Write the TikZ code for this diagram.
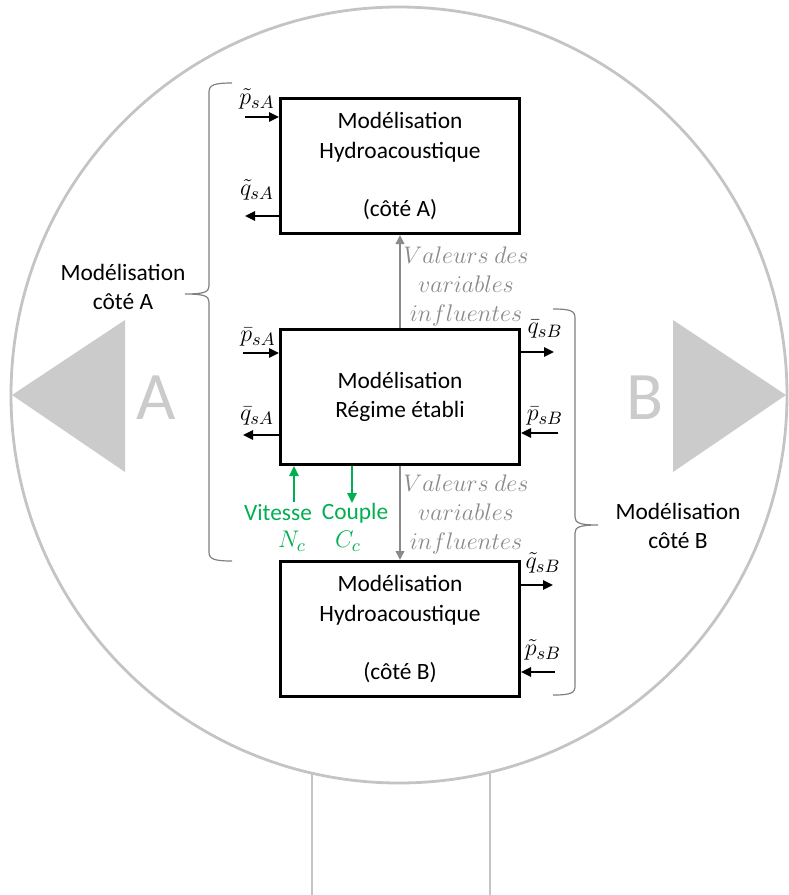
\documentclass[tikz,border=0pt]{standalone}
\usepackage{fontspec}
\setmainfont{Carlito}
\usetikzlibrary{arrows.meta}
\definecolor{ringgray}{HTML}{C4C4C4}
\definecolor{sidegray}{HTML}{CBCBCB}
\definecolor{infgray}{HTML}{8A8A8A}
\definecolor{mecagreen}{HTML}{00B050}
\begin{document}
\begin{tikzpicture}[x=0.5pt, y=-0.5pt,
    blk/.style={draw, line width=1.5pt, minimum width=119.5pt, minimum height=67.5pt,
      align=center, inner sep=0pt, font=\fontsize{11.7}{14.7}\selectfont},
    txt/.style={align=center, inner sep=0pt, font=\fontsize{11.7}{14.2}\selectfont},
    sym/.style={inner sep=0pt, font=\fontsize{12.8}{14}\selectfont},
    sig/.style={-{Triangle[length=5pt,width=4.6pt]}, line width=1.1pt},
    infl/.style={-{Triangle[length=4.5pt,width=4.2pt]}, line width=1.1pt, infgray},
    meca/.style={-{Triangle[length=5pt,width=4.6pt]}, line width=1.1pt, mecagreen},
    brc/.style={line width=0.6pt, gray}]
  \useasboundingbox (0,0) rectangle (788,895);
  % background: ring, stem and side arrows
  \draw[ringgray, line width=1.4pt] (399,395) circle[radius=388];
  \draw[ringgray, line width=1.4pt] (312,773) -- (312,895);
  \draw[ringgray, line width=1.4pt] (490,772) -- (490,895);
  \fill[sidegray] (125,320) -- (12,395) -- (125,472) -- cycle;
  \fill[sidegray] (673,320) -- (786,395) -- (673,472) -- cycle;
  \node[sidegray, inner sep=0pt, font=\fontsize{34}{36}\selectfont] (sideA) at (156,398) {A};
  \node[sidegray, inner sep=0pt, font=\fontsize{34}{36}\selectfont] (sideB) at (645,398) {B};
  % the three blocks
  \node[blk] (hydA) at (400,166) {Modélisation\\Hydroacoustique\\[14.3pt](côté A)};
  \node[blk] (regime) at (400,397) {Modélisation\\Régime établi};
  \node[blk] (hydB) at (400,629) {Modélisation\\Hydroacoustique\\[14.3pt](côté B)};
  % influent variables
  \draw[infl] (regime.north) -- (hydA.south);
  \draw[infl] (regime.south) -- (hydB.north);
  \node[infgray, txt, font=\fontsize{12.3}{14.5}\selectfont] (valA) at (466,286)
    {$Valeurs\ des$\\$variables$\\$influentes$};
  \node[infgray, txt, font=\fontsize{12.3}{14.5}\selectfont] (valB) at (466,514)
    {$Valeurs\ des$\\$variables$\\$influentes$};
  % side A signals
  \coordinate (pAt) at (245,117);
  \coordinate (qAt) at (245,216);
  \coordinate (pAb) at (243,353);
  \coordinate (qAb) at (243,435);
  \draw[sig] (pAt) -- (pAt -| hydA.west);
  \draw[sig] (qAt -| hydA.west) -- (qAt);
  \draw[sig] (pAb) -- (pAb -| regime.west);
  \draw[sig] (qAb -| regime.west) -- (qAb);
  \node[sym] (lpAt) at (257,99) {$\tilde{p}_{sA}$};
  \node[sym] (lqAt) at (257,190) {$\tilde{q}_{sA}$};
  \node[sym] (lpAb) at (258,337) {$\bar{p}_{sA}$};
  \node[sym] (lqAb) at (257,416) {$\bar{q}_{sA}$};
  % side B signals
  \coordinate (qBb) at (554,352);
  \coordinate (pBb) at (558,433);
  \coordinate (qBt) at (553,585);
  \coordinate (pBt) at (555,672);
  \draw[sig] (qBb -| regime.east) -- (qBb);
  \draw[sig] (pBb) -- (pBb -| regime.east);
  \draw[sig] (qBt -| hydB.east) -- (qBt);
  \draw[sig] (pBt) -- (pBt -| hydB.east);
  \node[sym] (lqBb) at (545,329) {$\bar{q}_{sB}$};
  \node[sym] (lpBb) at (545,416) {$\bar{p}_{sB}$};
  \node[sym] (lqBt) at (543,563) {$\tilde{q}_{sB}$};
  \node[sym] (lpBt) at (543,650) {$\tilde{p}_{sB}$};
  % shaft: speed and torque
  \coordinate (vit) at (294,502);
  \coordinate (cpl) at (352,503);
  \draw[meca] (vit) -- (vit |- regime.south);
  \draw[meca] (cpl |- regime.south) -- (cpl);
  \node[txt, mecagreen] (lvit) at (278,513) {Vitesse};
  \node[sym, mecagreen] (lnc) at (292,541) {$N_c$};
  \node[txt, mecagreen] (lcpl) at (355,513) {Couple};
  \node[sym, mecagreen] (lcc) at (348,541) {$C_c$};
  % braces
  \draw[brc] (232,83) .. controls (214,83) and (209,85) .. (209,92) -- (209,286)
    .. controls (209,292) and (204,294) .. (185,294)
    .. controls (204,294) and (209,296) .. (209,302) -- (209,552)
    .. controls (209,559) and (214,561) .. (232,561);
  \draw[brc] (553,309) .. controls (571,309) and (575,311) .. (575,318) -- (575,517)
    .. controls (575,523) and (580,525) .. (598,525)
    .. controls (580,525) and (575,527) .. (575,533) -- (575,686)
    .. controls (575,693) and (571,695) .. (553,695);
  \node[txt] (cotA) at (123,287) {Modélisation\\côté A};
  \node[txt] (cotB) at (678,526) {Modélisation\\côté B};
\end{tikzpicture}
\end{document}
